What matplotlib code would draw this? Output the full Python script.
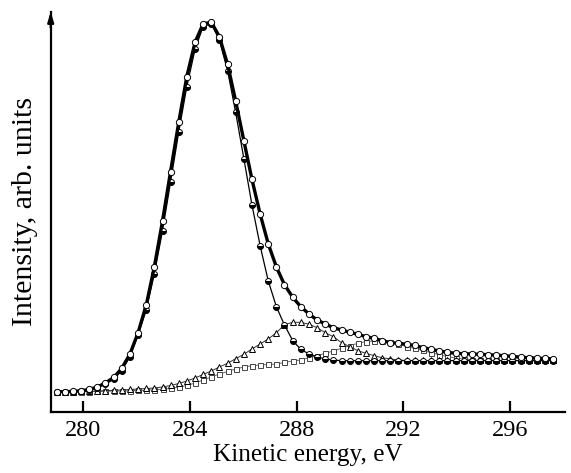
import matplotlib
matplotlib.use("Agg")
import matplotlib.pyplot as plt

# Kinetic energy grid (eV)
energy = [279.00, 279.31, 279.61, 279.92, 280.22, 280.53, 280.83, 281.14, 281.44, 281.75,
          282.05, 282.36, 282.66, 282.97, 283.27, 283.58, 283.88, 284.19, 284.49, 284.80,
          285.10, 285.41, 285.71, 286.02, 286.32, 286.63, 286.93, 287.24, 287.54, 287.85,
          288.15, 288.46, 288.76, 289.07, 289.37, 289.68, 289.98, 290.29, 290.59, 290.90,
          291.20, 291.51, 291.81, 292.12, 292.42, 292.73, 293.03, 293.34, 293.64, 293.95,
          294.25, 294.56, 294.86, 295.17, 295.47, 295.78, 296.08, 296.39, 296.69, 297.00,
          297.30, 297.61]

# Total (open circles, thick line)
total = [20.0, 20.0, 20.2, 20.9, 22.2, 24.7, 28.7, 34.2, 43.2, 57.7,
         78.7, 106.7, 144.4, 190.7, 240.0, 289.7, 335.0, 369.4, 387.7, 389.4,
         375.0, 347.2, 310.7, 270.7, 232.4, 197.4, 168.0, 144.4, 127.0, 114.4,
         105.0, 97.7, 91.7, 87.7, 84.0, 81.7, 79.4, 77.4, 75.0, 73.4,
         71.0, 69.0, 68.4, 67.4, 66.2, 64.0, 62.4, 60.7, 59.4, 58.4,
         58.0, 57.7, 57.4, 57.0, 56.5, 56.0, 55.2, 54.5, 54.0, 53.5,
         53.2, 52.9]

# Main component (half-filled circles, thin line)
main_peak = [20.0, 20.0, 20.0, 20.7, 21.7, 24.0, 27.7, 32.4, 41.0, 55.0,
             76.7, 101.7, 137.4, 181.0, 229.4, 280.0, 325.0, 362.4, 385.0, 388.0,
             371.7, 340.7, 299.4, 252.7, 207.0, 165.7, 131.0, 104.7, 86.7, 71.0,
             62.4, 57.7, 55.0, 52.7, 51.7, 51.0, 51.0, 51.0, 51.0, 51.0,
             51.0, 51.0, 51.0, 51.0, 51.0, 51.0, 51.0, 51.0, 51.0, 51.0,
             51.0, 51.0, 51.0, 51.0, 51.0, 51.0, 51.0, 51.0, 51.0, 51.0,
             51.0, 51.0]

# Second component (triangles)
second_peak = [20.0, 20.0, 20.0, 20.2, 20.4, 20.7, 21.0, 21.4, 21.7, 22.2,
               22.7, 23.2, 23.7, 24.7, 26.2, 28.2, 30.7, 33.7, 37.2, 40.7,
               44.7, 48.4, 53.0, 57.4, 62.7, 67.7, 72.7, 79.0, 87.0, 89.4,
               89.4, 87.4, 84.0, 79.0, 75.0, 69.0, 65.0, 61.0, 58.4, 56.0,
               54.0, 52.7, 51.7, 51.2, 51.2, 51.2, 51.2, 51.2, 51.2, 51.2,
               51.2, 51.2, 51.2, 51.2, 51.2, 51.2, 51.2, 51.2, 51.2, 51.2,
               51.2, 51.2]

# Third component (squares)
third_peak = [20.0, 20.0, 20.0, 20.0, 20.0, 20.2, 20.5, 20.7, 20.7, 21.0,
              21.2, 21.5, 21.9, 22.5, 23.2, 24.5, 26.2, 28.7, 31.7, 34.7,
              37.7, 40.2, 42.7, 44.7, 46.0, 46.7, 47.2, 47.7, 49.2, 50.7,
              51.7, 54.0, 56.0, 58.4, 60.7, 63.4, 66.0, 68.4, 70.0, 70.7,
              71.0, 69.4, 67.7, 65.0, 63.2, 61.2, 59.0, 57.0, 55.2, 53.7,
              52.7, 52.0, 51.4, 51.4, 51.4, 51.4, 51.4, 51.4, 51.4, 51.4,
              51.4, 51.4]

xticks = [280, 284, 288, 292, 296]

plt.rcParams['font.family'] = ['Liberation Serif', 'DejaVu Serif']

fig = plt.figure(figsize=(5.71, 4.73), dpi=100)
ax = fig.add_axes([0.0888, 0.1296, 0.9006, 0.8458])

ax.plot(energy, third_peak, '-', color='#666666', lw=0.7, marker='s', ms=3.6,
        mfc='white', mec='#444444', mew=0.7, zorder=2)
ax.plot(energy, second_peak, '-', color='#333333', lw=0.7, marker='^', ms=4.3,
        mfc='white', mec='black', mew=0.7, zorder=3)
ax.plot(energy, main_peak, '-', color='black', lw=0.9, marker='o', ms=4.3,
        fillstyle='bottom', mfc='black', mfcalt='white', mec='black', mew=0.7, zorder=4)
ax.plot(energy, total, '-', color='black', lw=2.4, marker='o', ms=4.5,
        mfc='white', mec='black', mew=0.7, zorder=5)

ax.set_xlim(278.78, 298.05)
ax.set_ylim(0, 400)

for s in ['top', 'right']:
    ax.spines[s].set_visible(False)
ax.spines['left'].set_linewidth(1.6)
ax.spines['bottom'].set_linewidth(1.6)

ax.set_xticks(xticks)
ax.set_yticks([])
ax.tick_params(axis='x', direction='in', length=8, width=1.6, labelsize=17.5, pad=6)

# arrow on top of y-axis
ax.annotate('', xy=(0, 1.0), xycoords='axes fraction', xytext=(0, 0.96),
            arrowprops=dict(arrowstyle='-|>,head_width=0.18,head_length=0.6',
                            color='black', lw=1.6, shrinkA=0, shrinkB=0),
            annotation_clip=False)

ax.set_xlabel('Kinetic energy, eV', fontsize=18.2, labelpad=2)
ax.set_ylabel('Intensity, arb. units', fontsize=21.5, labelpad=9)

fig.savefig('out.png', dpi=100)
